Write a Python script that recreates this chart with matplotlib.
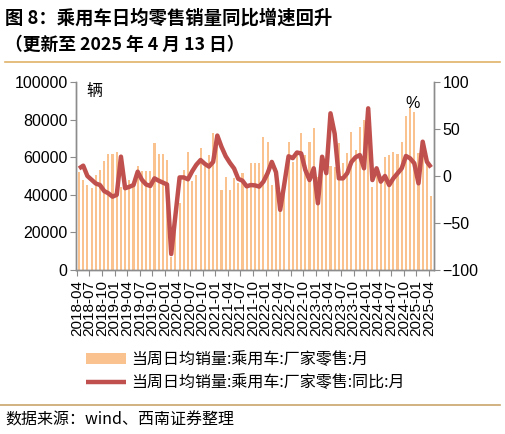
import matplotlib
matplotlib.use('Agg')
import matplotlib.pyplot as plt
from matplotlib.lines import Line2D
import numpy as np
import pandas as pd

plt.rcParams['font.family'] = ['Liberation Sans', 'Noto Sans CJK SC', 'DejaVu Sans']

# monthly points, 2018-04 .. 2025-04
months = pd.period_range('2018-04', '2025-04', freq='M').strftime('%Y-%m').tolist()

# 当周日均销量:乘用车:厂家零售:月 (辆)
sales = [52000, 48000, 45000, 43500, 50500, 53000, 58000, 61700, 61700, 62600,
         44000, 47000, 48000, 46000, 55300, 52800, 52800, 52800, 67400, 61700,
         61700, 58500, 7000, 28000, 35600, 53000, 62600, 47300, 50500, 64700,
         57600, 61200, 72700, 70900, 42600, 49600, 42600, 48800, 46100, 51400,
         45200, 57100, 57100, 56700, 70900, 68300, 45200, 54100, 38000, 45000,
         68300, 57600, 62000, 73000, 61200, 68300, 75400, 49600, 53000, 55900,
         55300, 55000, 67400, 56700, 62000, 73600, 63800, 76200, 79800, 75000,
         44300, 53000, 48000, 60000, 61000, 63000, 61500, 68300, 82000, 86000,
         84200, 62000, 61500, 60000, 39400]

# 当周日均销量:乘用车:厂家零售:同比:月 (%)
yoy = [8, 11, 0, -4, -8, -9.6, -16, -18.4, -22, -20,
       20.6, -13, -11.5, -9.6, 4.6, -4, -9, -10.6, -2.5, -5,
       -7, -9, -83, -42, -1.5, -1.5, -3.5, 5, 12, 17,
       13, 10, 15, 43, 31, 21, 14, 8, -3, -5,
       -11, -9.6, -10, -11.3, -6, 3, 15, 4, -36, -8,
       21, 19, 25, 24, 6.4, -4.3, 8.2, -29, 20.5, 3,
       66.7, 45, -2.5, -2.5, 3, 15, 20, 22.3, 8.2, 72,
       -4.3, 8.2, -6, 0, -9.6, -2.5, 2.8, 8.2, 21.3, 18.8,
       13.5, -7.8, 36.5, 15.2, 9.2]

bar_color = '#F9C28F'
line_color = '#C0504D'
grey = '#8C8C8C'
cjk = ['Noto Sans CJK SC', 'DejaVu Sans']

fig = plt.figure(figsize=(5.06, 4.34), dpi=100)
ax = fig.add_axes([76 / 506, 1 - 270 / 434, 358 / 506, 188 / 434])
x = np.arange(len(months))

bars = ax.bar(x, sales, width=0.5, color=bar_color, zorder=1,
              label='当周日均销量:乘用车:厂家零售:月')
ax.set_ylim(0, 100000)
ax.set_yticks([0, 20000, 40000, 60000, 80000, 100000])
ax.set_xlim(-0.72, 84.7)
ax.set_xticks(x[::3] - 0.5)
ax.set_xticklabels(months[::3], rotation=90, fontsize=11)

ax2 = ax.twinx()
line, = ax2.plot(x, yoy, color=line_color, lw=3.2, solid_joinstyle='round',
                 solid_capstyle='butt', label='当周日均销量:乘用车:厂家零售:同比:月')
ax2.set_ylim(-100, 100)
ax2.set_yticks([-100, -50, 0, 50, 100])

for a in (ax, ax2):
    a.spines['top'].set_visible(False)
    for s in ('left', 'right', 'bottom'):
        a.spines[s].set_color(grey)
        a.spines[s].set_linewidth(1.0)
    a.tick_params(axis='y', colors=grey, labelcolor='black', length=4,
                  width=0.8, labelsize=11.5, pad=2)
ax.tick_params(axis='x', colors=grey, labelcolor='black', length=4,
               width=0.8, pad=3)

ax.text(0.028, 0.947, '辆', transform=ax.transAxes, fontsize=11.5,
        family=cjk, va='center', ha='left')
ax2.text(0.941, 0.888, '%', transform=ax2.transAxes, fontsize=11.5,
         va='center', ha='center')

fig.legend(handles=[bars, line], loc='upper left',
           bbox_to_anchor=(86 / 506, 1 - 351 / 434), frameon=False,
           prop={'family': cjk, 'size': 11.5}, handlelength=2.5,
           handletextpad=0.3, labelspacing=0.4, borderaxespad=0, borderpad=0)

# header / footer
fig.text(5 / 506, 1 - 18 / 434, '图 8：乘用车日均零售销量同比增速回升',
         family=cjk, fontsize=13.2, weight='bold', va='center', ha='left')
fig.text(5 / 506, 1 - 45 / 434, '（更新至 2025 年 4 月 13 日）',
         family=cjk, fontsize=12.8, weight='bold', va='center', ha='left')
fig.add_artist(Line2D([5 / 506, 500 / 506], [1 - 62 / 434, 1 - 62 / 434],
                      color='#E0B26A', lw=1.2))
fig.add_artist(Line2D([0, 500 / 506], [1 - 405 / 434, 1 - 405 / 434],
                      color='#C9A46B', lw=1.2))
fig.text(5 / 506, 1 - 420 / 434, '数据来源：wind、西南证券整理',
         family=cjk, fontsize=11.5, style='italic', va='center', ha='left')

fig.savefig('out.png', dpi=100)
